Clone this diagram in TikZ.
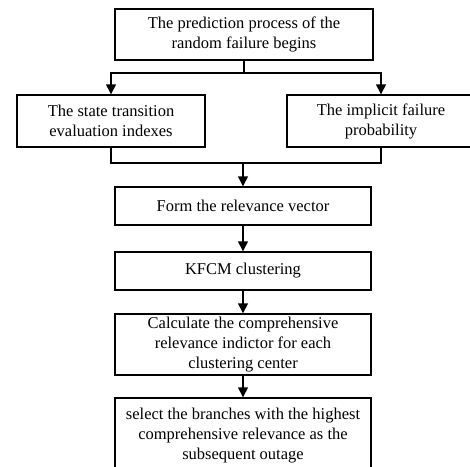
\documentclass[tikz,border=0pt]{standalone}
\usepackage{fontspec}
\setmainfont{Liberation Serif}
\usetikzlibrary{arrows.meta}

\tikzset{
	procbox/.style={rectangle, draw, line width=1.4pt, inner sep=0pt, align=center,
		font=\fontsize{16.5}{20}\selectfont},
	flow/.style={line width=1.4pt, -{Triangle[width=10pt,length=10pt]}},
	link/.style={line width=1.4pt},
}

\begin{document}
\begin{tikzpicture}[x=1pt,y=-1pt]
			
			\useasboundingbox (0,0) rectangle (470,466);
			\clip (0,0) rectangle (470,466);
			
			\node[procbox, minimum width=258pt, minimum height=51pt]
			(Begin) at (244,34.5) {The prediction process of the\\random failure begins};
			
			\coordinate (Split) at (244,73);
			
			\node[procbox, minimum width=188pt, minimum height=52pt]
			(StateIdx) at (111,121) {The state transition\\evaluation indexes};
			
			\node[procbox, minimum width=188pt, minimum height=52pt]
			(FailProb) at (381,121) {The implicit failure\\probability};
			
			\draw[link] (Begin.south) -- (Split);
			\draw[flow] (Split) -| (StateIdx.north);
			\draw[flow] (Split) -| (FailProb.north);
			
			\coordinate (Join) at (243,163);
			
			\node[procbox, minimum width=256pt, minimum height=38pt]
			(RelVec) at (243,206) {Form the relevance vector};
			
			\draw[link] (StateIdx.south) |- (Join) -| (FailProb.south);
			\draw[flow] (Join) -- (RelVec);
			
			\node[procbox, minimum width=256pt, minimum height=38pt]
			(KFCM) at (243,271) {KFCM clustering};
			
			\draw[flow] (RelVec) -- (KFCM);
			
			\node[procbox, minimum width=256pt, minimum height=61pt]
			(CompInd) at (243,344.5) {Calculate the comprehensive\\relevance indictor for each\\clustering center};
			
			\draw[flow] (KFCM) -- (CompInd);
			
			\node[procbox, minimum width=256pt, minimum height=76pt]
			(Select) at (243,436) {select the branches with the highest\\comprehensive relevance as the\\subsequent outage};
			
			\draw[flow] (CompInd) -- (Select);
			
\end{tikzpicture}
\end{document}
